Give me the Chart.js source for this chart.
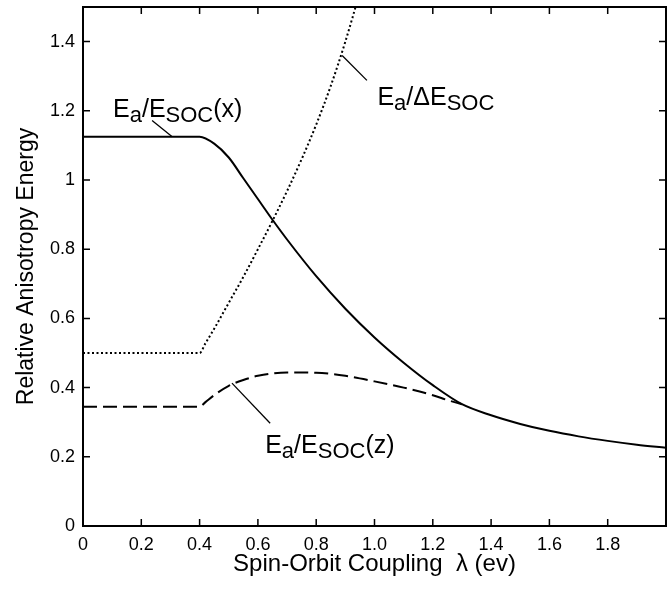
<!DOCTYPE html>
<html>
<head>
<meta charset="utf-8">
<script src="https://cdn.jsdelivr.net/npm/chart.js@4.4.0/dist/chart.umd.min.js"></script>
<style>
  html, body { margin: 0; padding: 0; background: #fff; }
</style>
</head>
<body>
<canvas id="Chart" width="671" height="590"></canvas>
<script>
// tick values and labels
var xTicks = [0, 0.2, 0.4, 0.6, 0.8, 1.0, 1.2, 1.4, 1.6, 1.8, 2.0];
var xTickLabels = ["0", "0.2", "0.4", "0.6", "0.8", "1.0", "1.2", "1.4", "1.6", "1.8", ""];
var yTicks = [0, 0.2, 0.4, 0.6, 0.8, 1.0, 1.2, 1.4];
var yTickLabels = ["0", "0.2", "0.4", "0.6", "0.8", "1", "1.2", "1.4"];

// Ea/ESOC(x)  (solid)
var socXx = [0, 0.4, 0.45, 0.5, 0.55, 0.6, 0.65, 0.7, 0.8, 0.9, 1.0, 1.1, 1.2, 1.3, 1.4, 1.5, 1.6, 1.7, 1.8, 1.9, 2.0];
var socXy = [1.125, 1.125, 1.105, 1.065, 1.005, 0.945, 0.885, 0.828, 0.722, 0.628, 0.545, 0.472, 0.407, 0.352, 0.32, 0.295, 0.275, 0.259, 0.246, 0.235, 0.226];

// Ea/dESOC  (dotted)
var dSocX = [0, 0.4, 0.42, 0.45, 0.5, 0.55, 0.6, 0.65, 0.7, 0.75, 0.8, 0.85, 0.9, 0.95, 1.0];
var dSocY = [0.5, 0.5, 0.528, 0.57, 0.645, 0.72, 0.80, 0.882, 0.968, 1.06, 1.16, 1.272, 1.40, 1.545, 1.70];

// Ea/ESOC(z)  (dashed)
var socZx = [0, 0.4, 0.42, 0.45, 0.5, 0.55, 0.6, 0.7, 0.8, 0.9, 1.0, 1.1, 1.2, 1.25, 1.3];
var socZy = [0.345, 0.345, 0.358, 0.378, 0.405, 0.422, 0.434, 0.444, 0.443, 0.434, 0.418, 0.40, 0.378, 0.364, 0.352];

var FONT = '"Liberation Sans", Arial, sans-serif';

function toPoints(xs, ys) {
    return xs.map(function (x, i) { return { x: x, y: ys[i] }; });
}

// annotation labels, positioned in data units
var labels = [
    { x: 0.103, y: 1.182, parts: [["E"], ["a", 1], ["/"], ["E"], ["SOC", 1], ["(x)"]], lead: [0.237, 1.172, 0.306, 1.125] },
    { x: 1.010, y: 1.217, parts: [["E"], ["a", 1], ["/"], ["\u0394"], ["E"], ["SOC", 1]], lead: [0.889, 1.36, 0.974, 1.288] },
    { x: 0.625, y: 0.211, parts: [["E"], ["a", 1], ["/"], ["E"], ["SOC", 1], ["(z)"]], lead: [0.511, 0.413, 0.642, 0.297] }
];

function drawRich(ctx, x, y, parts) {
    parts.forEach(function (p) {
        ctx.font = (p[1] ? "22px " : "25px ") + FONT;
        ctx.fillText(p[0], x, p[1] ? y + 5 : y);
        x += ctx.measureText(p[0]).width;
    });
}

var framePlugin = {
    id: "frame",
    beforeDraw: function (chart) {
        var ctx = chart.ctx;
        ctx.save();
        ctx.fillStyle = "#fff";
        ctx.fillRect(0, 0, chart.width, chart.height);
        ctx.restore();
    },
    afterDatasetsDraw: function (chart) {
        var ctx = chart.ctx, a = chart.chartArea, xs = chart.scales.x, ys = chart.scales.y;
        ctx.save();
        ctx.strokeStyle = "#000";
        ctx.lineWidth = 2;
        ctx.strokeRect(a.left, a.top, a.right - a.left, a.bottom - a.top);

        // inward ticks on all four sides
        ctx.lineWidth = 1.5;
        ctx.beginPath();
        xTicks.forEach(function (v) {
            var px = xs.getPixelForValue(v);
            ctx.moveTo(px, a.bottom); ctx.lineTo(px, a.bottom - 7);
            ctx.moveTo(px, a.top); ctx.lineTo(px, a.top + 7);
        });
        yTicks.forEach(function (v) {
            var py = ys.getPixelForValue(v);
            ctx.moveTo(a.left, py); ctx.lineTo(a.left + 7, py);
            ctx.moveTo(a.right, py); ctx.lineTo(a.right - 7, py);
        });
        ctx.stroke();

        // leader lines and labels
        ctx.lineWidth = 1.3;
        ctx.fillStyle = "#000";
        ctx.textAlign = "left";
        ctx.textBaseline = "alphabetic";
        labels.forEach(function (l) {
            ctx.beginPath();
            ctx.moveTo(xs.getPixelForValue(l.lead[0]), ys.getPixelForValue(l.lead[1]));
            ctx.lineTo(xs.getPixelForValue(l.lead[2]), ys.getPixelForValue(l.lead[3]));
            ctx.stroke();
            drawRich(ctx, xs.getPixelForValue(l.x), ys.getPixelForValue(l.y), l.parts);
        });
        ctx.restore();
    }
};

new Chart("Chart", {
    type: "line",
    data: {
        datasets: [{
            data: toPoints(socZx, socZy),
            borderColor: "#000",
            borderWidth: 2,
            borderDash: [14, 6],
            pointRadius: 0,
            cubicInterpolationMode: "monotone"
        }, {
            data: toPoints(dSocX, dSocY),
            borderColor: "#000",
            borderWidth: 2,
            borderDash: [2, 2.5],
            pointRadius: 0,
            cubicInterpolationMode: "monotone"
        }, {
            data: toPoints(socXx, socXy),
            borderColor: "#000",
            borderWidth: 2,
            pointRadius: 0,
            cubicInterpolationMode: "monotone"
        }]
    },
    options: {
        responsive: false,
        animation: false,
        layout: { padding: { top: 7, right: 5, left: 0, bottom: 0 } },
        plugins: { legend: { display: false }, tooltip: { enabled: false } },
        scales: {
            x: {
                type: "linear",
                min: 0,
                max: 2,
                afterBuildTicks: function (s) { s.ticks = xTicks.map(function (v) { return { value: v }; }); },
                afterFit: function (s) { s.height = 64; s.paddingLeft = 0; s.paddingRight = 0; },
                grid: { display: false, drawTicks: false },
                border: { display: false },
                ticks: {
                    autoSkip: false,
                    maxRotation: 0,
                    padding: 8,
                    color: "#000",
                    font: { family: FONT, size: 18 },
                    callback: function (v, i) { return xTickLabels[i]; }
                },
                title: {
                    display: true,
                    text: "Spin-Orbit Coupling  \u03bb (ev)",
                    color: "#000",
                    font: { family: FONT, size: 24 },
                    padding: { top: 0, bottom: 11 }
                }
            },
            y: {
                min: 0,
                max: 1.5,
                afterBuildTicks: function (s) { s.ticks = yTicks.map(function (v) { return { value: v }; }); },
                afterFit: function (s) { s.width = 83; s.paddingTop = 0; s.paddingBottom = 0; },
                grid: { display: false, drawTicks: false },
                border: { display: false },
                ticks: {
                    autoSkip: false,
                    padding: 8,
                    color: "#000",
                    font: { family: FONT, size: 18 },
                    callback: function (v, i) { return yTickLabels[i]; }
                },
                title: {
                    display: true,
                    text: "Relative Anisotropy Energy",
                    color: "#000",
                    font: { family: FONT, size: 23 },
                    padding: { top: 13, bottom: 0 }
                }
            }
        }
    },
    plugins: [framePlugin]
});
</script>
</body>
</html>
